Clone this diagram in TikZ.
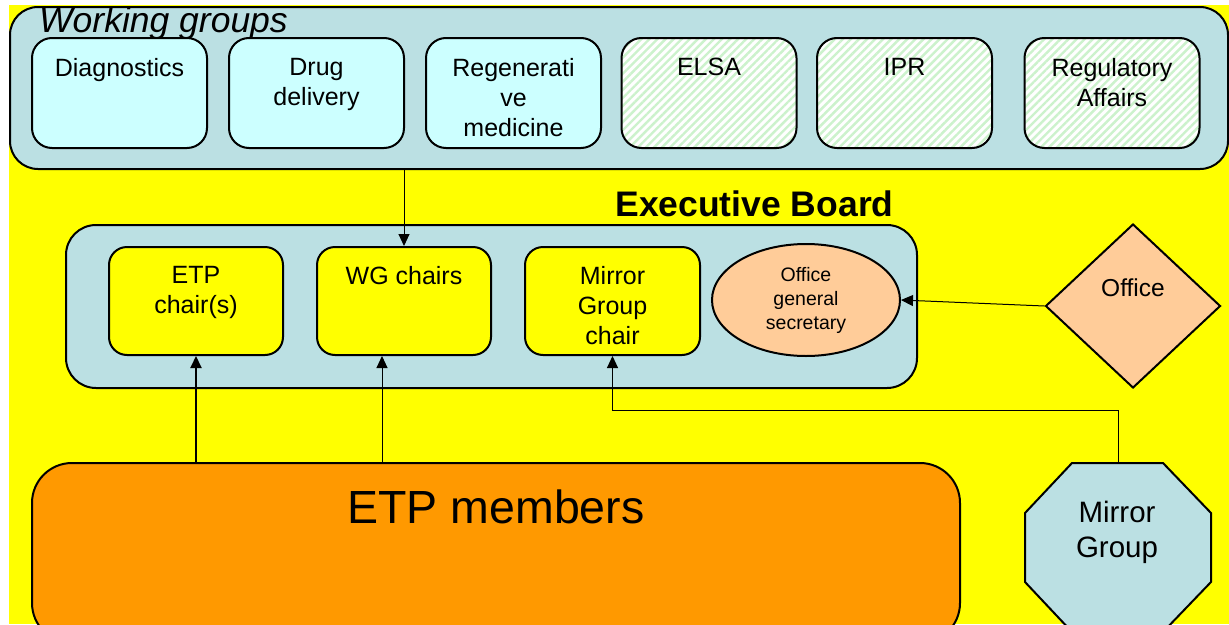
\documentclass[tikz,border=0pt]{standalone}
\usepackage{fontspec}
\setmainfont{Liberation Sans}
\usetikzlibrary{arrows.meta,shapes.geometric,patterns.meta}
\definecolor{bgyellow}{RGB}{255,255,0}
\definecolor{panel}{RGB}{187,224,227}
\definecolor{cyanbox}{RGB}{204,255,255}
\definecolor{hatchc}{RGB}{204,242,204}
\definecolor{orangebox}{RGB}{255,153,0}
\definecolor{peach}{RGB}{255,204,153}
\begin{document}
\begin{tikzpicture}[x=1pt,y=-1pt,
  panelbox/.style={draw=black,line width=2pt,fill=panel,inner sep=0pt},
  wgbox/.style={draw=black,line width=2pt,rounded corners=20pt,minimum width=175pt,minimum height=110pt,inner sep=0pt},
  cyanwg/.style={wgbox,fill=cyanbox},
  hatchwg/.style={wgbox,preaction={fill=white},pattern={Lines[angle=45,distance=5.7pt,line width=2.4pt]},pattern color=hatchc},
  chairbox/.style={draw=black,line width=2pt,fill=bgyellow,rounded corners=18pt,minimum height=108pt,inner sep=0pt},
  txt/.style={inner sep=0pt,align=center,font=\fontsize{25}{30}\selectfont},
  conn/.style={draw=black,line width=1pt,-{Triangle[length=12pt,width=11pt]}}]
\useasboundingbox (0,0) rectangle (1229,624);
\clip (0,0) rectangle (1229,624);
\fill[white] (0,0) rectangle (1229,624);
\fill[bgyellow] (9,5) rectangle (1229,624);

% Working groups panel
\node[panelbox,rounded corners=28pt,minimum width=1218pt,minimum height=162pt] (wg) at (619,88) {};
\node[anchor=base west,inner sep=0pt,font=\fontsize{35.5}{42}\selectfont\itshape] (wgtitle) at (39,32) {Working groups};

\node[cyanwg] (diag) at (119.5,93) {};
\node[cyanwg] (drug) at (316.5,93) {};
\node[cyanwg] (regen) at (513.5,93) {};
\node[hatchwg] (elsa) at (709,93) {};
\node[hatchwg] (ipr) at (904.5,93) {};
\node[hatchwg] (reg) at (1112,93) {};
\node[txt,anchor=north] (diag-t) at ([yshift=-21pt]diag.north) {Diagnostics};
\node[txt,anchor=north] (drug-t) at ([yshift=-21pt]drug.north) {Drug\\delivery};
\node[txt,anchor=north] (regen-t) at ([yshift=-21pt]regen.north) {Regenerati\\ve\\medicine};
\node[txt,anchor=north] (elsa-t) at ([yshift=-21pt]elsa.north) {ELSA};
\node[txt,anchor=north] (ipr-t) at ([yshift=-21pt]ipr.north) {IPR};
\node[txt,anchor=north] (reg-t) at ([yshift=-21pt]reg.north) {Regulatory\\Affairs};

% Executive board
\node[anchor=base,inner sep=0pt,font=\fontsize{35.5}{42}\selectfont\bfseries] (ebtitle) at (754.5,216) {Executive Board};
\node[panelbox,rounded corners=30pt,minimum width=851pt,minimum height=163pt] (eb) at (491.5,306.5) {};
\node[chairbox,minimum width=174pt] (etpc) at (196,301) {};
\node[chairbox,minimum width=174pt] (wgc) at (404,301) {};
\node[chairbox,minimum width=175pt] (mgc) at (612.5,301) {};
\node[txt,anchor=north] (etpc-t) at ([yshift=-20pt]etpc.north) {ETP\\chair(s)};
\node[txt,anchor=north] (wgc-t) at ([yshift=-20pt]wgc.north) {WG chairs};
\node[txt,anchor=north] (mgc-t) at ([yshift=-20pt]mgc.north) {Mirror\\Group\\chair};
\node[ellipse,draw=black,line width=2pt,fill=peach,minimum width=188pt,minimum height=112pt,inner sep=0pt,align=center,font=\fontsize{19.5}{24}\selectfont] (ogs) at (806,300) {Office\\general\\secretary};

% Office
\node[diamond,draw=black,line width=2pt,fill=peach,minimum width=175pt,minimum height=164pt,inner sep=0pt] (office) at (1133,306) {};
\node[txt,anchor=north,font=\fontsize{24.5}{28}\selectfont] (office-t) at (1133,279) {Office};

% ETP members
\node[draw=black,line width=2pt,fill=orangebox,rounded corners=40pt,minimum width=928pt,minimum height=180pt,inner sep=0pt] (etp) at (496,553) {};
\node[anchor=base,inner sep=0pt,font=\fontsize{46.5}{54}\selectfont] (etp-t) at (496,523) {ETP members};

% Mirror Group octagon
\draw[line width=2pt,fill=panel] (1072,463) -- (1163,463) -- (1211,513) -- (1211,582) -- (1163,632) -- (1072,632) -- (1025,582) -- (1025,513) -- cycle;
\coordinate (mgtop) at (1118,463);
\node[txt,font=\fontsize{29.5}{35}\selectfont] (mg) at (1117,532.5) {Mirror\\Group};

% Connectors
\draw[conn] (wgc.north |- wg.south) -- (wgc.north);
\draw[conn,line width=2pt] (etpc.south |- etp.north) -- (etpc.south);
\coordinate (wgcin) at ([xshift=-22pt]wgc.south);
\draw[conn] (wgcin |- etp.north) -- (wgcin);
\coordinate (mgbend) at (1118,410);
\draw[conn] (mgtop) -- (mgbend) -| (mgc.south);
\draw[conn] (office.west) -- (ogs.east);
\end{tikzpicture}
\end{document}
